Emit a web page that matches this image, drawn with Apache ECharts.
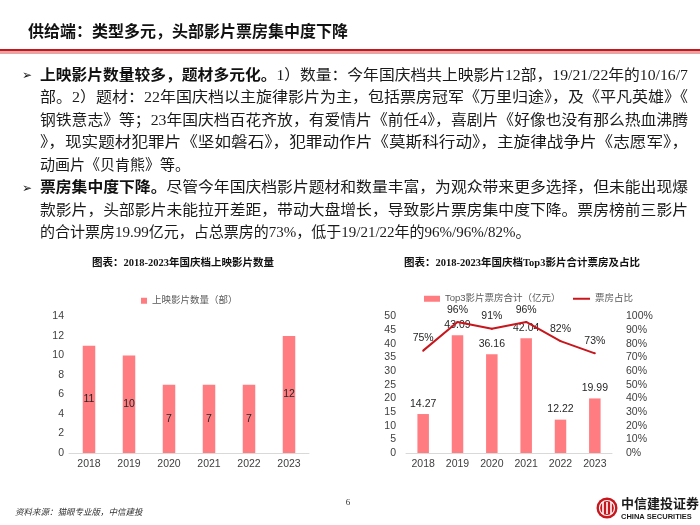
<!DOCTYPE html>
<html><head><meta charset="utf-8">
<script src="https://cdn.jsdelivr.net/npm/echarts@6/dist/echarts.min.js"></script>
<style>html,body{margin:0;padding:0;background:#fff}#c{width:700px;height:525px}</style>
</head><body><div id="c"></div>
<script>
// ---- data ----
const years = ['2018', '2019', '2020', '2021', '2022', '2023'];
const filmCount = [11, 10, 7, 7, 7, 12];
const top3Box = [14.27, 43.09, 36.16, 42.04, 12.22, 19.99];
const top3Share = [0.75, 0.96, 0.91, 0.96, 0.82, 0.73];
const countAxis = { min: 0, max: 14, interval: 2 };
const boxAxis = { min: 0, max: 50, interval: 5 };
const shareAxis = { min: 0, max: 1, interval: 0.1 };

const pageTitle = '供给端：类型多元，头部影片票房集中度下降';
const chartTitleL = '图表：2018-2023年国庆档上映影片数量';
const chartTitleR = '图表：2018-2023年国庆档Top3影片合计票房及占比';
const legendL = '上映影片数量（部）';
const legendBar = 'Top3影片票房合计（亿元）';
const legendLine = '票房占比';
const para1 = [
  ['上映影片数量较多，题材多元化。', '1）数量：今年国庆档共上映影片12部，19/21/22年的10/16/7'],
  ['', '部。2）题材：22年国庆档以主旋律影片为主，包括票房冠军《万里归途》，及《平凡英雄》《'],
  ['', '钢铁意志》等；23年国庆档百花齐放，有爱情片《前任4》，喜剧片《好像也没有那么热血沸腾'],
  ['', '》，现实题材犯罪片《坚如磐石》，犯罪动作片《莫斯科行动》，主旋律战争片《志愿军》，'],
  ['', '动画片《贝肯熊》等。']
];
const para2 = [
  ['票房集中度下降。', '尽管今年国庆档影片题材和数量丰富，为观众带来更多选择，但未能出现爆'],
  ['', '款影片，头部影片未能拉开差距，带动大盘增长，导致影片票房集中度下降。票房榜前三影片'],
  ['', '的合计票房19.99亿元，占总票房的73%，低于19/21/22年的96%/96%/82%。']
];
const footNote = '资料来源：猫眼专业版，中信建投';
const pageNo = '6';
const logoCn = '中信建投证券';
const logoEn = 'CHINA SECURITIES';

// ---- styles ----
const BAR = '#FF7C80', LINE = '#C8161D', LAB = '#404040';
const SANS = '"Liberation Sans", "Noto Sans CJK SC", sans-serif';
const BODY = '15px "Liberation Serif", "Noto Sans CJK SC", serif';
const BODYB = 'bold 15px "Liberation Serif", "Noto Sans CJK SC", serif';

const mctx = document.createElement('canvas').getContext('2d');
function mw(t, f) { mctx.font = f; return mctx.measureText(t).width; }
function txt(x, y, text, font, fill, align, sx) {
  return { type: 'text', x: x, y: y, scaleX: sx || 1, silent: true,
    style: { text: text, font: font, fill: fill, textAlign: align || 'left', textVerticalAlign: 'middle',
             align: align || 'left', verticalAlign: 'middle' } };
}

const graphics = [];
graphics.push(txt(28, 31, pageTitle, 'bold 16px "Noto Sans CJK SC", sans-serif', '#111'));
graphics.push({ type: 'rect', silent: true, shape: { x: 0, y: 49, width: 700, height: 2 }, style: { fill: '#C8161D' } });
graphics.push({ type: 'rect', silent: true, shape: { x: 0, y: 51, width: 700, height: 3 }, style: { fill: '#E9A3A3' } });

const TX = 40, TW = 648, LH = 22.5;
function addPara(lines, y0) {
  graphics.push(txt(22, y0, '➢', '12px "DejaVu Sans"', '#111'));
  lines.forEach((ln, i) => {
    const y = y0 + i * LH;
    const wb = ln[0] ? mw(ln[0], BODYB) : 0;
    const wn = mw(ln[1], BODY);
    const last = i === lines.length - 1;
    const s = last ? 1 : TW / (wb + wn);
    if (ln[0]) graphics.push(txt(TX, y, ln[0], BODYB, '#111', 'left', s));
    graphics.push(txt(TX + wb * s, y, ln[1], BODY, '#1a1a1a', 'left', s));
  });
}
addPara(para1, 76);
addPara(para2, 76 + 5 * LH);

graphics.push(txt(183, 263, chartTitleL, 'bold 10.5px "Liberation Serif", "Noto Sans CJK SC", serif', '#111', 'center'));
graphics.push(txt(522, 263, chartTitleR, 'bold 10.5px "Liberation Serif", "Noto Sans CJK SC", serif', '#111', 'center'));

graphics.push(txt(15, 512, footNote, 'italic 8.5px "Noto Sans CJK SC", sans-serif', '#333'));
graphics.push(txt(348, 503, pageNo, '9px "Liberation Serif", serif', '#333', 'center'));
// logo
graphics.push({ type: 'circle', silent: true, shape: { cx: 607, cy: 508, r: 10.5 }, style: { fill: '#C8161D' } });
graphics.push({ type: 'circle', silent: true, shape: { cx: 607, cy: 508, r: 7.5 }, style: { fill: 'none', stroke: '#fff', lineWidth: 1.2 } });
[603, 607, 611].forEach(x => graphics.push({ type: 'rect', silent: true, shape: { x: x - 0.8, y: 502, width: 1.6, height: 12 }, style: { fill: '#fff' } }));
graphics.push(txt(621, 503, logoCn, 'bold 13px "Noto Sans CJK SC", sans-serif', '#1a1a1a'));
graphics.push(txt(621, 517, logoEn, 'bold 7.5px "Liberation Sans", sans-serif', '#1a1a1a'));

const axisLab = { color: LAB, fontSize: 10.5, fontFamily: SANS };
const xBase = {
  type: 'category', data: years,
  axisLine: { lineStyle: { color: '#D9D9D9', width: 1 } },
  axisTick: { show: false },
  axisLabel: Object.assign({ margin: 6 }, axisLab)
};
const legText = { color: '#595959', fontSize: 9.5, fontFamily: SANS };

const option = {
  animation: false,
  backgroundColor: '#fff',
  graphic: graphics,
  legend: [
    { data: [legendL], left: 136, top: 291, icon: 'rect', itemWidth: 6, itemHeight: 6, itemGap: 6, textStyle: legText },
    { data: [legendBar], left: 419, top: 289, icon: 'rect', itemWidth: 16, itemHeight: 6, textStyle: legText },
    { data: [legendLine], left: 568, top: 289, icon: 'rect', itemWidth: 17, itemHeight: 2, textStyle: legText }
  ],
  grid: [
    { left: 69, right: 391, top: 316.5, bottom: 72 },
    { left: 406, right: 88, top: 316.5, bottom: 72 }
  ],
  xAxis: [
    Object.assign({ gridIndex: 0 }, xBase),
    Object.assign({ gridIndex: 1 }, xBase)
  ],
  yAxis: [
    { gridIndex: 0, type: 'value', min: countAxis.min, max: countAxis.max, interval: countAxis.interval,
      splitLine: { show: false }, axisLine: { show: false }, axisTick: { show: false },
      axisLabel: Object.assign({ margin: 5 }, axisLab) },
    { gridIndex: 1, type: 'value', min: boxAxis.min, max: boxAxis.max, interval: boxAxis.interval,
      splitLine: { show: false }, axisLine: { show: false }, axisTick: { show: false },
      axisLabel: Object.assign({ margin: 10 }, axisLab) },
    { gridIndex: 1, type: 'value', position: 'right', min: shareAxis.min, max: shareAxis.max, interval: shareAxis.interval,
      splitLine: { show: false }, axisLine: { show: false }, axisTick: { show: false },
      axisLabel: Object.assign({ margin: 14, formatter: v => Math.round(v * 100) + '%' }, axisLab) }
  ],
  series: [
    { name: legendL, type: 'bar', xAxisIndex: 0, yAxisIndex: 0, data: filmCount, barWidth: 12.5,
      itemStyle: { color: BAR },
      label: { show: true, position: 'inside', color: '#262626', fontSize: 10.5, fontFamily: SANS } },
    { name: legendBar, type: 'bar', xAxisIndex: 1, yAxisIndex: 1, data: top3Box, barWidth: 11.5,
      itemStyle: { color: BAR },
      label: { show: true, position: 'top', distance: 5, color: '#262626', fontSize: 10.5, fontFamily: SANS,
               formatter: p => p.value.toFixed(2) } },
    { name: legendLine, type: 'line', xAxisIndex: 1, yAxisIndex: 2, data: top3Share,
      symbol: 'circle', symbolSize: 2, showSymbol: true,
      lineStyle: { color: LINE, width: 2 }, itemStyle: { color: LINE }, z: 5,
      label: { show: true, position: 'top', distance: 6, color: '#262626', fontSize: 10.5, fontFamily: SANS,
               formatter: p => Math.round(p.value * 100) + '%' } }
  ]
};
const chart = echarts.init(document.getElementById('c'), null, { renderer: 'canvas' });
chart.setOption(option);
</script>
</body></html>
